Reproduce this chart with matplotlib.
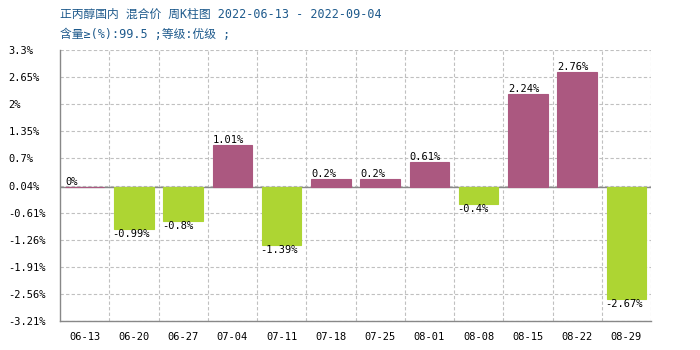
import matplotlib
matplotlib.use('Agg')
import matplotlib.pyplot as plt
import numpy as np

weeks = ['06-13', '06-20', '06-27', '07-04', '07-11', '07-18',
         '07-25', '08-01', '08-08', '08-15', '08-22', '08-29']
changes = [0, -0.99, -0.8, 1.01, -1.39, 0.2, 0.2, 0.61, -0.4, 2.24, 2.76, -2.67]
yticks = [3.3, 2.65, 2, 1.35, 0.7, 0.04, -0.61, -1.26, -1.91, -2.56, -3.21]
ytick_labels = ['3.3%', '2.65%', '2%', '1.35%', '0.7%', '0.04%', '-0.61%',
                '-1.26%', '-1.91%', '-2.56%', '-3.21%']
title1 = '正丙醇国内 混合价 周K柱图 2022-06-13 - 2022-09-04'
title2 = '含量≥(%):99.5 ;等级:优级 ;'

up_c = '#ab5880'
down_c = '#add533'
grid_c = '#c0c0c0'
txt_font = ['DejaVu Sans Mono', 'Noto Sans CJK SC']

fig = plt.figure(figsize=(7, 3.5), dpi=100)
ax = fig.add_axes([60 / 700, 1 - 321 / 350, 591 / 700, 271 / 350])

x = np.arange(len(weeks))
cols = [up_c if v >= 0 else down_c for v in changes]
bars = ax.bar(x, changes, width=0.8, color=cols, edgecolor=cols, linewidth=0.8, zorder=3)

for b, v in zip(bars, changes):
    lbl = '%g%%' % v
    if v >= 0:
        ax.text(b.get_x(), v, lbl, ha='left', va='bottom', fontsize=7.5,
                family=txt_font, zorder=4)
    else:
        ax.text(b.get_x() - 0.03, v, lbl, ha='left', va='top', fontsize=7.5,
                family=txt_font, zorder=4)

ax.set_xlim(-0.5, len(weeks) - 0.5)
ax.set_ylim(-3.21, 3.3)
ax.set_yticks(yticks)
ax.set_yticklabels(ytick_labels, ha='left', family=txt_font, fontsize=7.5)
ax.tick_params(axis='y', length=0, pad=37)
ax.set_xticks(x)
ax.set_xticklabels(weeks, family=txt_font, fontsize=7.5)
ax.tick_params(axis='x', length=0, pad=8)

# grid
for y in yticks:
    ax.axhline(y, color=grid_c, lw=0.8, ls=(0, (3, 2)), zorder=1)
for xb in np.arange(0.5, len(weeks), 1):
    ax.axvline(xb, color=grid_c, lw=0.8, ls=(0, (3, 2)), zorder=1)
ax.axhline(0, color='#888888', lw=1, zorder=2)

for s in ['top', 'right']:
    ax.spines[s].set_visible(False)
for s in ['left', 'bottom']:
    ax.spines[s].set_color('#888888')
    ax.spines[s].set_linewidth(1)

fig.text(60 / 700, 1 - 14 / 350, title1, ha='left', va='center', fontsize=8.5,
         color='#1e5a8c', family=txt_font)
fig.text(60 / 700, 1 - 34 / 350, title2, ha='left', va='center', fontsize=8.5,
         color='#1e5a8c', family=txt_font)

plt.savefig('out.png', dpi=100)
